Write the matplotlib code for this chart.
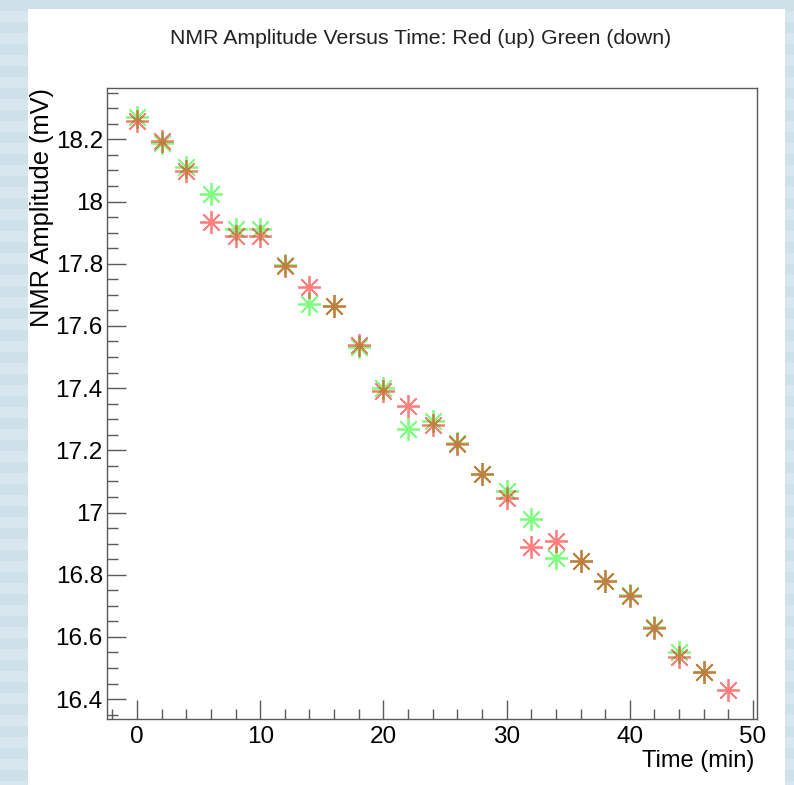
import numpy as np
import matplotlib
matplotlib.use("Agg")
import matplotlib.pyplot as plt
from matplotlib.patches import Rectangle
from matplotlib.ticker import MultipleLocator

# Measured NMR amplitude, field sweep up (red) and down (green)
time_up = [0, 2, 4, 6, 8, 10, 12, 14, 16, 18, 20, 22, 24,
           26, 28, 30, 32, 34, 36, 38, 40, 42, 44, 46, 48]
amp_up = [18.259, 18.195, 18.098, 17.933, 17.890, 17.890, 17.794, 17.726,
          17.665, 17.540, 17.391, 17.342, 17.280, 17.219, 17.123, 17.048,
          16.889, 16.907, 16.844, 16.781, 16.730, 16.629, 16.534, 16.487,
          16.430]

time_down = [0, 2, 4, 6, 8, 10, 12, 14, 16, 18, 20, 22, 24,
             26, 28, 30, 32, 34, 36, 38, 40, 42, 44, 46]
amp_down = [18.273, 18.188, 18.111, 18.025, 17.911, 17.911, 17.797, 17.670,
            17.665, 17.533, 17.399, 17.268, 17.294, 17.222, 17.123, 17.068,
            16.978, 16.854, 16.844, 16.781, 16.735, 16.632, 16.550, 16.487]

x_major = [0, 10, 20, 30, 40, 50]
y_major = [16.4, 16.6, 16.8, 17.0, 17.2, 17.4, 17.6, 17.8, 18.0, 18.2]
y_labels = ["16.4", "16.6", "16.8", "17", "17.2", "17.4", "17.6", "17.8", "18", "18.2"]

plt.rcParams["font.family"] = ["Liberation Sans", "DejaVu Sans"]

W, H = 794, 785
fig = plt.figure(figsize=(W / 100, H / 100), dpi=100)

# window backdrop: pale blue stripes with a white canvas on top
bg = fig.add_axes([0, 0, 1, 1], zorder=-10)
rows = np.arange(H)
shade = np.where((rows // 11) % 2 == 0, 0.0, 1.0)
c1 = np.array([0.81, 0.88, 0.92])
c2 = np.array([0.85, 0.905, 0.94])
stripes = (c1[None, :] * (1 - shade[:, None]) + c2[None, :] * shade[:, None])[:, None, :]
bg.imshow(stripes, aspect="auto", extent=[0, W, H, 0])
bg.add_patch(Rectangle((28, 9), 757, H - 9, facecolor="white", edgecolor="none"))
bg.set_xlim(0, W)
bg.set_ylim(H, 0)
bg.axis("off")

# plotting frame
L, R, T, B = 107, 757, 88, 719
ax = fig.add_axes([L / W, 1 - B / H, (R - L) / W, (B - T) / H])
ax.set_xlim(-2.435, 50.32)
ax.set_ylim(16.336, 18.365)

star = (8, 2, 0)
ax.plot(time_down, amp_down, ls="none", marker=star, ms=16.5, mew=1.3,
        color="#00ff00", alpha=0.5)
ax.plot(time_up, amp_up, ls="none", marker=star, ms=16.5, mew=1.3,
        color="#ff0000", alpha=0.5)

for s in ax.spines.values():
    s.set_color("#5a5a5a")
    s.set_linewidth(1.0)

ax.set_xticks(x_major)
ax.set_xticklabels([str(v) for v in x_major])
ax.xaxis.set_minor_locator(MultipleLocator(2))
ax.set_yticks(y_major)
ax.set_yticklabels(y_labels)
ax.yaxis.set_minor_locator(MultipleLocator(0.05))

ax.tick_params(axis="both", which="both", direction="in", color="#5a5a5a",
               top=False, right=False, labelsize=17.5, labelcolor="black")
ax.tick_params(axis="x", which="major", length=14, width=1.0, pad=5)
ax.tick_params(axis="x", which="minor", length=7, width=1.0)
ax.tick_params(axis="y", which="major", length=14, width=1.0, pad=3)
ax.tick_params(axis="y", which="minor", length=8, width=1.0)

fig.text(420.5 / W, 1 - 43.5 / H, "NMR Amplitude Versus Time: Red (up) Green (down)",
         ha="center", va="baseline", fontsize=15.3, color="#222222")
fig.text(754 / W, 1 - 767 / H, "Time (min)", ha="right", va="baseline",
         fontsize=17, color="black")
fig.text(49.5 / W, 1 - 88 / H, "NMR Amplitude (mV)", ha="right", va="baseline",
         rotation=90, rotation_mode="anchor", fontsize=18.3, color="black")

fig.savefig("out.png", dpi=100)
